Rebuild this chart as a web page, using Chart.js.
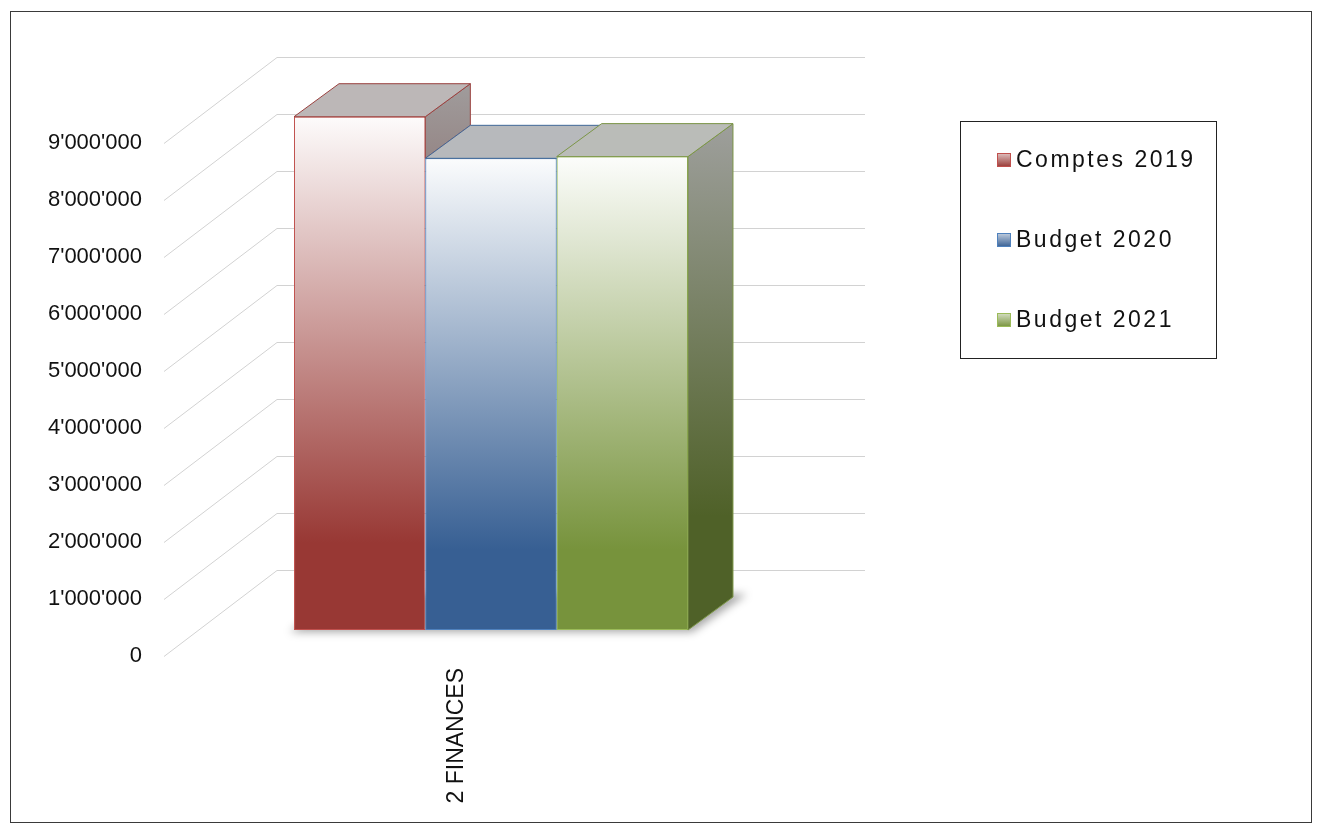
<!DOCTYPE html>
<html lang="fr">
<head>
<meta charset="utf-8">
<title>2 FINANCES</title>
<script src="https://cdn.jsdelivr.net/npm/chart.js@4.4.1/dist/chart.umd.min.js"></script>
<style>
    html, body { margin: 0; padding: 0; background: #fff; }
    #contenedor { position: relative; width: 1318px; height: 834px; }
</style>
</head>
<body>
<div id="contenedor"><canvas id="myChart"></canvas></div>
<script>
// datos
const categorias = ['2 FINANCES'];
const series = ['Comptes 2019', 'Budget 2020', 'Budget 2021'];
const comptes2019 = [9005000];
const budget2020 = [8275000];
const budget2021 = [8305000];
const minY = 0;
const maxY = 9000000;
const pasoY = 1000000;

// estilos
const colores = ['#983834', '#375f93', '#77933c'];
const bordes = ['#c0504d', '#4f81bd', '#9bbb59'];
const fuente = '"Liberation Sans", Arial, sans-serif';

// desplazamientos de la perspectiva (px)
const PROF = { dx: 45, dy: -33 };    // fondo de las barras
const FONDO = { dx: 80, dy: -60 };   // pared del fondo
const FRENTE = { dx: -33, dy: 26 };  // borde delantero del suelo

function rgb(hex) {
    return [1, 3, 5].map(i => parseInt(hex.slice(i, i + 2), 16));
}

function mezcla(hex, t, base) {
    const c = rgb(hex);
    const b = base === undefined ? 255 : base;
    return 'rgb(' + c.map(v => Math.round(b + (v - b) * t)).join(',') + ')';
}

function oscuro(hex, f) {
    return 'rgb(' + rgb(hex).map(v => Math.round(v * f)).join(',') + ')';
}

function degradadoFrente(chart, hex, top, bottom) {
    const g = chart.ctx.createLinearGradient(0, top, 0, bottom);
    g.addColorStop(0, mezcla(hex, 0.02));
    g.addColorStop(0.83, hex);
    g.addColorStop(1, hex);
    return g;
}

function degradadoLado(chart, hex, top, bottom) {
    const g = chart.ctx.createLinearGradient(0, top, 0, bottom);
    g.addColorStop(0, mezcla(hex, 0.04, 160));
    g.addColorStop(0.83, oscuro(hex, 0.66));
    g.addColorStop(1, oscuro(hex, 0.66));
    return g;
}

function formato(v) {
    return String(v).replace(/\B(?=(\d{3})+(?!\d))/g, "'");
}

function dataset(label, data, i) {
    return {
        label: label,
        data: data,
        backgroundColor: function (c) {
            const chart = c.chart;
            if (!chart.chartArea) {
                return colores[i];
            }
            const y = chart.scales.y;
            return degradadoFrente(chart, colores[i], y.getPixelForValue(c.raw), y.getPixelForValue(0));
        },
        borderColor: bordes[i],
        borderWidth: 1,
        borderSkipped: false,
        categoryPercentage: 0.67,
        barPercentage: 1.0
    };
}

// pared del fondo y sombra del suelo
const pared = {
    id: 'pared',
    beforeDatasetsDraw(chart) {
        const { ctx, chartArea } = chart;
        const y = chart.scales.y;
        ctx.save();
        ctx.strokeStyle = '#d2d2d2';
        ctx.lineWidth = 1;
        y.ticks.forEach(t => {
            const py = Math.round(y.getPixelForValue(t.value)) + 0.5;
            ctx.beginPath();
            ctx.moveTo(chartArea.left + FRENTE.dx, py + FRENTE.dy);
            ctx.lineTo(chartArea.left + FONDO.dx, py + FONDO.dy);
            ctx.lineTo(chartArea.right + FONDO.dx, py + FONDO.dy);
            ctx.stroke();
        });

        const metas = chart.getSortedVisibleDatasetMetas();
        const primera = metas[0].data[0];
        const ultima = metas[metas.length - 1].data[0];
        const x0 = primera.x - primera.width / 2;
        const x1 = ultima.x + ultima.width / 2;
        const base = primera.base;
        ctx.filter = 'blur(4px)';
        ctx.fillStyle = 'rgba(0,0,0,0.35)';
        ctx.beginPath();
        ctx.moveTo(x0 - 4, base + 2);
        ctx.lineTo(x1 + 4, base + 2);
        ctx.lineTo(x1 + PROF.dx + 14, base + PROF.dy - 3);
        ctx.lineTo(x0 + PROF.dx, base + PROF.dy - 3);
        ctx.closePath();
        ctx.fill();
        ctx.restore();
    }
};

// caras de arriba y laterales de cada barra
const caras = {
    id: 'caras',
    afterDatasetsDraw(chart) {
        const ctx = chart.ctx;
        const metas = chart.getSortedVisibleDatasetMetas();
        ctx.save();
        ctx.lineWidth = 1;
        ctx.lineJoin = 'round';
        metas.forEach((meta, i) => {
            const bar = meta.data[0];
            const c = colores[meta.index];
            if (i > 0) {
                bar.draw(ctx);
            }
            const izq = bar.x - bar.width / 2;
            const der = bar.x + bar.width / 2;
            const top = bar.y;

            // lado derecho, solo lo que queda por encima de la barra vecina
            let abajo = bar.base;
            if (i < metas.length - 1) {
                abajo = Math.min(bar.base, metas[i + 1].data[0].y);
            }
            if (abajo > top) {
                ctx.beginPath();
                ctx.moveTo(der, top);
                ctx.lineTo(der + PROF.dx, top + PROF.dy);
                ctx.lineTo(der + PROF.dx, abajo + PROF.dy);
                ctx.lineTo(der, abajo);
                ctx.closePath();
                ctx.fillStyle = degradadoLado(chart, c, top + PROF.dy, bar.base + PROF.dy);
                ctx.fill();
                ctx.strokeStyle = oscuro(bordes[meta.index], 0.8);
                ctx.stroke();
            }

            // tapa
            ctx.beginPath();
            ctx.moveTo(izq, top);
            ctx.lineTo(der, top);
            ctx.lineTo(der + PROF.dx, top + PROF.dy);
            ctx.lineTo(izq + PROF.dx, top + PROF.dy);
            ctx.closePath();
            ctx.fillStyle = mezcla(c, 0.05, 190);
            ctx.fill();
            ctx.strokeStyle = oscuro(bordes[meta.index], 0.8);
            ctx.stroke();
        });
        ctx.restore();
    }
};

// leyenda con marco y marco exterior
const leyenda = {
    id: 'leyenda',
    afterDraw(chart) {
        const ctx = chart.ctx;
        ctx.save();
        ctx.strokeStyle = '#3a3a3a';
        ctx.lineWidth = 1;
        ctx.strokeRect(10.5, 11.5, 1301, 811);
        ctx.strokeStyle = '#222';
        ctx.strokeRect(960.5, 121.5, 256, 237);

        const centro = 240;
        const paso = 80;
        ctx.font = '23px ' + fuente;
        ctx.letterSpacing = '2.5px';
        ctx.textBaseline = 'middle';
        ctx.textAlign = 'left';
        chart.data.datasets.forEach((ds, i) => {
            const yc = centro + (i - 1) * paso;
            const g = ctx.createLinearGradient(0, yc - 7, 0, yc + 7);
            g.addColorStop(0, mezcla(colores[i], 0.3));
            g.addColorStop(1, colores[i]);
            ctx.fillStyle = g;
            ctx.fillRect(997, yc - 7, 14, 14);
            ctx.strokeStyle = bordes[i];
            ctx.strokeRect(997.5, yc - 6.5, 13, 13);
            ctx.fillStyle = '#111';
            ctx.fillText(ds.label, 1016, yc + 1);
        });
        ctx.restore();
    }
};

const ctx = document.getElementById('myChart');
const myChart = new Chart(ctx, {
    type: 'bar',
    data: {
        labels: categorias,
        datasets: [
            dataset(series[0], comptes2019, 0),
            dataset(series[1], budget2020, 1),
            dataset(series[2], budget2021, 2)
        ]
    },
    options: {
        responsive: true,
        maintainAspectRatio: false,
        animation: false,
        layout: {
            padding: { top: 117, right: 533, bottom: 0, left: 0 }
        },
        plugins: {
            legend: { display: false },
            tooltip: { enabled: false }
        },
        scales: {
            x: {
                grid: { display: false, drawTicks: false },
                border: { display: false },
                ticks: {
                    minRotation: 90,
                    maxRotation: 90,
                    autoSkip: false,
                    labelOffset: FRENTE.dx - 1,
                    padding: 38,
                    color: '#111',
                    font: { family: fuente, size: 23 }
                },
                afterFit: function (scale) {
                    scale.height = 204;
                }
            },
            y: {
                min: minY,
                max: maxY,
                grid: { display: false, drawTicks: false },
                border: { display: false },
                ticks: {
                    stepSize: pasoY,
                    padding: 55,
                    labelOffset: FRENTE.dy,
                    color: '#111',
                    font: { family: fuente, size: 22 },
                    callback: function (v) {
                        return formato(v);
                    }
                },
                afterFit: function (scale) {
                    scale.width = 197;
                }
            }
        }
    },
    plugins: [pared, caras, leyenda]
});
</script>
</body>
</html>
